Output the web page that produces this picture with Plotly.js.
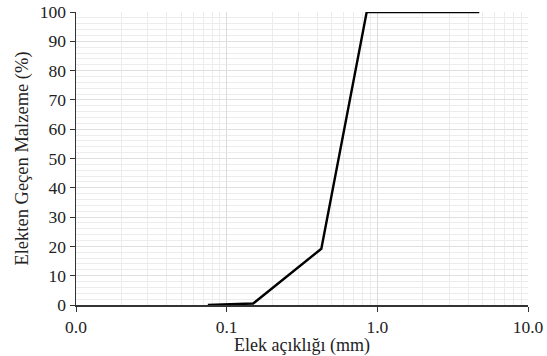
<!DOCTYPE html>
<html>
<head>
<meta charset="utf-8">
<script src="https://cdn.plot.ly/plotly-3.0.1.min.js"></script>
<style>html,body{margin:0;padding:0;background:#fff;}#chart{width:547px;height:356px;}</style>
</head>
<body>
<div id="chart"></div>
<script>
// Data
const sieveSize = [0.075, 0.15, 0.425, 0.85, 4.75];   // mm
const passing   = [0, 0.5, 19.2, 100, 100];            // %
const xTickVals = [0.01, 0.1, 1, 10];
const xTickText = ['0.0', '0.1', '1.0', '10.0'];

const minorX = [];
[0.01, 0.1, 1].forEach(d => { for (let k = 2; k <= 9; k++) minorX.push(d * k); });

const fam = 'Liberation Serif';
const txt = '#222';

Plotly.newPlot('chart', [{
  x: sieveSize, y: passing, type: 'scatter', mode: 'lines',
  line: {color: '#000', width: 2.4}, hoverinfo: 'skip'
}], {
  width: 547, height: 356,
  margin: {l: 76, r: 19, t: 12, b: 51},
  paper_bgcolor: '#fff', plot_bgcolor: '#fff',
  showlegend: false,
  font: {family: fam, size: 17, color: txt},
  xaxis: {
    type: 'log', range: [-2, 1],
    tickvals: xTickVals, ticktext: xTickText,
    ticks: 'outside', ticklen: 5, tickcolor: '#333', tickwidth: 1,
    showline: true, linecolor: '#333', linewidth: 1.5,
    showgrid: true, gridcolor: '#dcdcdc', gridwidth: 1,
    minor: {tickvals: minorX, showgrid: true, gridcolor: '#ececec', gridwidth: 1, ticks: ''},
    zeroline: false,
    tickfont: {family: fam, size: 17.5, color: txt},
    title: {text: 'Elek açıklığı (mm)', font: {family: fam, size: 18, color: txt}, standoff: 1}
  },
  yaxis: {
    range: [0, 100], dtick: 10, tick0: 0,
    ticks: 'outside', ticklen: 5, tickcolor: '#333', tickwidth: 1,
    showline: true, linecolor: '#333', linewidth: 1.5,
    showgrid: true, gridcolor: '#e0e0e0', gridwidth: 1,
    minor: {dtick: 2, showgrid: true, gridcolor: '#ececec', gridwidth: 1, ticks: ''},
    zeroline: false,
    tickfont: {family: fam, size: 17.5, color: txt},
    title: {text: 'Elekten Geçen Malzeme (%)', font: {family: fam, size: 18.5, color: txt}, standoff: 6}
  }
}, {staticPlot: true});
</script>
</body>
</html>
